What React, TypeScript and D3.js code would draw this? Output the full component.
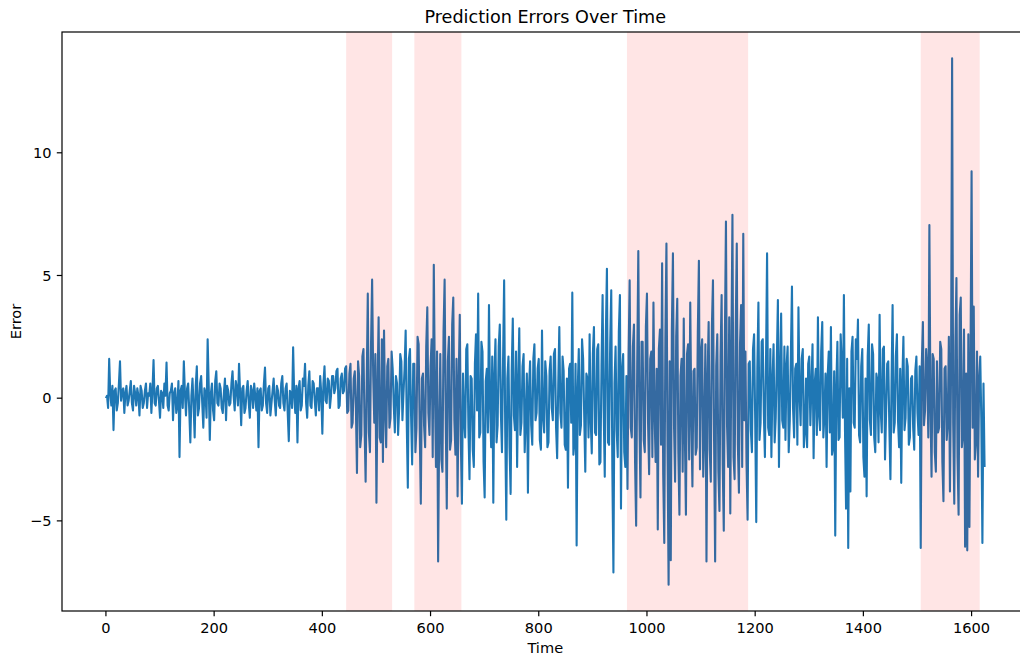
import React from "react";
import * as d3 from "d3";

// ---- data ----
const TITLE = "Prediction Errors Over Time";
const X_LABEL = "Time";
const Y_LABEL = "Error";
const TIME_STEP = 2; // spacing of the stored error samples along the Time axis
const xTicks = [0, 200, 400, 600, 800, 1000, 1200, 1400, 1600];
const yTicks = [-5, 0, 5, 10];
// shaded anomaly windows [start, end] in Time units
const spanStarts = [444, 570, 963, 1506];
const spanEnds = [529, 657, 1187, 1615];

const errors: number[] = [
  // calm stretch, Time 0 - 440
  0.0,
  0.1, -0.4, 1.6, 0.2, -0.3, 0.5, -1.3, 0.3, 0.4, -0.5, -0.2, 0.6, 1.5, -0.1, 0.3, 0.4, -0.6, 0.2, 0.5, -0.3,
  -0.1, 0.3, 0.7, -0.2, -0.5, 0.5, 0.2, -0.3, 0.4, 0.1, -0.7, 0.5, 0.3, -0.4, -0.2, 0.3, 0.6,
  -0.4, 0.2, 0.1, 0.6, -0.6, 0.3, 1.55, -0.2, -0.3, 0.4, 0.5, -0.1, -0.8, 0.3, 0.2, -0.4, 0.6, 0.1,
  1.45, -0.3, -0.5, 0.2, 0.3, 0.6, -0.9, 0.2, 0.4, -0.6, -0.3, 0.7, -2.4, 0.3, 0.5, -0.4, 1.5, 0.2,
  -0.7, 0.4, 0.6, -0.5, -1.8, 0.1, 0.8, -0.3, -1.6, 0.5, 1.3, -0.7, -0.4, 0.6, 0.9, -0.2, -1.2, 0.4,
  0.2, -0.8, 2.4, 0.5, -1.7, 0.2, 0.6, -0.5, -0.9, 0.7, 1.1, -0.2, -0.3, 0.6, 0.4, -0.4, -0.6, 0.2,
  0.8,
  -0.9, 0.5, 0.3, -0.3, -0.2, 0.6, 1.1, 0.1, -0.5, 0.7, 0.4, -0.3, 1.4, 0.2, -1.1, 0.4, 0.5, -0.6,
  -0.4, 0.3, 0.7, -0.2, -0.8, 0.5, 0.3, -0.4, 0.6, 0.1, -0.5, 0.4, -2.0, 0.3, 0.4, -0.5, -0.3, 0.6,
  1.25, -0.2, -0.6, 0.4, 0.5, -0.7, -0.2, 0.3, 0.8, -0.1, -0.7, 0.5, 0.3, -0.3, -0.4, 0.6, 0.9, -0.2,
  -0.5, 0.4, 0.6, -0.6, -1.75, 0.3, 0.2, -0.4, 2.07, 0.1, -0.6, 0.5, -1.8, 0.4, 0.7, -0.5, -0.3, 0.8,
  0.5,
  1.4, -0.2, -0.8, 0.5, 1.1, -0.3, -0.4, 0.7, 0.6, -0.1, -0.7, 0.4, 0.4, -0.5, 0.9, 0.2, -1.45, 0.6,
  1.3, -0.1, -0.2, 0.8, 0.7, -0.4, 0.1, 0.9, 0.9, 0.2, 0.4, 1.1, 1.2, -0.4, -0.3, 0.8, 1.0, 0.2,
  // first anomaly window
  0.3, 1.2, 1.3, -0.6, -0.5, 1.0, 1.4, -1.2, -1.0, 0.8, 1.1, -0.4, -3.05, 1.5, 0.9, -2.0, -1.5, 1.7,
  2.0, -1.1, -3.4, 0.6, 4.26, -1.4, -2.2, 2.2, 4.83, 0.9, -1.0, 1.8, -4.26, 0.4, 3.3, -1.6, -1.8, 2.4,
  -2.6,
  2.76, -0.5, -2.0, 1.3, 1.6, -1.2, -0.8, 1.9, 1.2, -0.3, -1.4, 0.9,
  // Time ~540 - 665
  0.6, -1.5, -0.4, 1.8, 1.5, -0.9, 0.2, 1.2, 2.76, -1.0, -3.65, 1.6, 2.0, -0.7, -2.7, 1.4, 1.4, -2.2,
  -1.2, 2.5, 2.2, -1.3, -4.3, 0.8, 1.0, -1.1, -2.0, 2.1, 3.7, -0.6, -1.5, 1.3, 2.4, -2.4, 5.44, 0.5,
  -2.8, 1.9, -6.65, -1.2, 1.8, -2.5, -3.0, 2.7, 4.83, -0.8, -4.5, 1.5, 2.5, -2.1, -1.7, 3.0, 4.1, -0.9,
  -2.3, 1.6, -4.0, 0.7, 3.4, -1.8, -4.3,
  // Time ~665 - 975
  1.0, -0.8, -1.6, 2.0, 2.2, -1.2, -3.3, 0.9, 0.8, -2.1, -2.8, 1.4, 2.6, -0.5, 4.26, -1.6, -1.4, 2.3,
  1.9, -2.6, -4.05, 0.7, 1.2, -1.4, 3.8, -0.2, -2.0, 1.7, -4.26, 0.9, 2.4, -1.8, -1.1, 2.1, 3.0, -0.6,
  -2.2, 1.5, 4.8, -1.3, -4.95, 0.8, 1.7, -2.0, -3.9, 1.1, 3.25, -0.7, -1.3, 1.9, -2.8, 0.6, 2.85, -1.5,
  -1.0, 1.3, 1.8, -2.2, -0.8, 1.0, -3.85, 0.4, 1.5, -1.1, -1.9, 1.6, 2.2, -0.9, -0.6, 1.2, 1.6, -1.7,
  -2.1,
  2.76, -0.8, -1.4, 1.5, 0.9, -2.0, -1.8, 1.1, 1.7, -0.4, -0.9, 1.8, 2.0, -1.2, -2.45, 0.5, 2.9, -0.6,
  -1.2, 1.7, 1.1, -1.9, -2.1, 0.8, -3.65, 1.2, 1.4, -1.0, 4.3, -2.3, -1.8, 1.4, -6.0, 0.3, 2.0, -1.5,
  -1.1, 2.4, 1.6, -0.7, -3.0, 1.0, 0.8, -1.6, 2.6, -0.9, -2.25, 1.8, 2.9, -1.4, -1.5, 2.0, 2.2, -2.7,
  -2.6, 1.3, 4.2, -0.5, -3.2, 2.6, 5.27, -1.8, -1.9, 2.2, 4.4, -2.9, -7.1, 0.6, 2.1, -1.3, -2.4, 2.7,
  4.2,
  -4.5, 1.1, 1.8, -2.2, -2.8, 0.9, -3.7, 1.7,
  // long anomaly window
  4.8, -1.2, -1.6, 2.1, 3.0, -2.6, -5.2, 1.4, 6.0, -0.8, -4.05, 2.3, 2.3, -1.7, -2.2, 2.9, 4.26, -1.0,
  -3.1, 1.6, 1.9, -2.4, 3.9, -0.6, -2.6, 1.2, -5.35, 2.0, 2.8, -1.9, 5.5, -3.1, -5.9, 2.4, 6.3, -2.0,
  -7.6, 1.5, -6.6, 2.8, 5.9, -1.1, -3.4, 2.5, 4.05, -2.2, -4.75, 0.9, 1.6, -3.0, 3.25, -1.4, -4.75, 1.8,
  2.2, -2.5, 3.9, -0.7, -3.6, 1.1, 1.2, -2.3, -2.0, 2.7, 5.6,
  -2.9, 1.9, 2.4, -3.2, -1.2, 2.2, -6.65, 0.8, 3.1, -2.1, -3.4, 2.9, 4.8, -1.6, -6.65, 1.3, 2.6, -3.0,
  -4.6, 1.7, 4.2, -2.7, -5.4, 2.4, 7.2, -1.1, -2.8, 3.3, -4.7, 1.9, 7.47, -2.4, -3.3, 2.8, 6.3, -1.9,
  -3.85, 2.2, 3.8, -2.8, 6.7, -0.9, 1.9, -2.6, -4.95, 1.4,
  // Time ~1190 - 1505
  1.5, -1.3, -2.2, 2.0, 2.6, -0.8, -5.05, 1.2, 3.9, -1.7, -1.0, 2.3, 2.4, -0.6, -2.4, 1.4, 5.9, -1.2,
  -1.5, 2.0, -2.4, 0.7, 2.2, -1.8, -0.8, 1.5, 4.0,
  -2.8, 1.0, 3.45, -0.9, -1.2, 2.1, -1.7, 1.3, 2.1, -2.2, -0.9, 1.8, 4.55, -0.4, -1.6, 1.2, 1.4, -1.9,
  3.7, 0.2, -1.1, 1.6, 2.0, -2.0, -1.4, 0.8, -2.0, 1.4, 1.7, -1.1, 0.5, 2.2, -2.45, 0.6, 1.2, -1.5,
  3.3, -0.7, -1.3, 1.9, 3.1, -1.6, -0.7, 1.0, -2.8, 0.9, 1.9, -1.4, 2.9, -2.3, -2.0, 1.1, -5.6, 0.5,
  2.3, -1.7, -1.6, 2.6, 1.4, -0.8, 4.2, -1.3, -4.5, 1.6, -6.1, 0.4, -3.8, 1.9, 2.5, -1.0, -1.2, 2.4,
  1.6,
  3.2, -1.5, -1.8, 1.3, 2.0, -2.4, -3.2, 0.8, -4.0, 1.7, 3.0, -0.9, -1.5, 2.2, 1.8, -1.6, -2.2, 1.0,
  0.7, -1.8, 3.4, -0.5, -1.4, 2.0, 2.1, -2.5, -0.6, 1.4, 1.5, -1.2, -3.3, 0.6, 3.8, -1.4, -1.0, 1.7,
  2.6, -0.9, -2.0, 1.2, -3.45, 0.7, 2.5, -1.3, -0.8, 1.6, 1.3, -1.9, -1.6, 0.8, 0.9, -1.2, -2.1, 1.1,
  1.7, -0.6, -1.5, 1.3,
  // last anomaly window and tail
  -6.1, 1.4, 3.1, -1.1, -0.5, 2.0, 1.2, -1.6, 7.06, -0.4, -3.2, 1.8, 1.6, -2.2, -3.0,
  1.5, -1.4, -1.2, 2.3, 2.0, -2.6, -4.2, 1.2, 1.3, -1.7, -1.0, 2.5, -3.8, 0.9, 13.85, -1.0, -4.3, 2.1,
  4.9, -2.4, -4.75, 3.4, 4.1, -2.0, -1.5, 2.8, -6.05, 1.0, -6.2, 2.6, -5.25, 1.5, 9.25, -1.2, 3.73, -2.5,
  -1.8, 1.9, -3.2, 0.8, 1.7, -0.9, -5.9, 0.6, -2.8,
];

const W = 1020;
const H = 659;
const LEFT = 62;
const RIGHT = 1028.5; // right spine falls just outside the cropped figure
const TOP = 32;
const BOTTOM = 611;
const FONT = "'DejaVu Sans', sans-serif";
const LINE = "#1f77b4";
const TICK_FS = 14.6;
const TITLE_FS = 17.6;

export default function App() {
  const times = errors.map((_, i) => i * TIME_STEP);
  const tMax = d3.max(times) as number;
  const [eMin, eMax] = d3.extent(errors) as [number, number];
  const xPad = tMax * 0.05;
  const yPad = (eMax - eMin) * 0.05;

  const x = d3.scaleLinear().domain([-xPad, tMax + xPad]).range([LEFT, RIGHT]);
  const y = d3.scaleLinear().domain([eMin - yPad, eMax + yPad]).range([BOTTOM, TOP]);

  const line = d3
    .line<number>()
    .x((_, i) => x(times[i]))
    .y((d) => y(d));

  const fmt = (v: number) => (v < 0 ? "\u2212" + Math.abs(v) : String(v));
  const tickLen = 5.2;
  const tickPad = 5.2;

  return (
    <svg
      width={W}
      height={H}
      style={{ position: "absolute", left: 0, top: 0, background: "#fff" }}
      fontFamily={FONT}
    >
      <rect x={0} y={0} width={W} height={H} fill="#fff" />
      <path
        d={line(errors) || ""}
        fill="none"
        stroke={LINE}
        strokeWidth={2.1}
        strokeLinejoin="round"
        strokeLinecap="butt"
      />
      {spanStarts.map((s, i) => (
        <rect
          key={"span" + i}
          x={x(s)}
          y={TOP}
          width={x(spanEnds[i]) - x(s)}
          height={BOTTOM - TOP}
          fill="red"
          fillOpacity={0.1}
        />
      ))}
      {/* spines */}
      <rect x={LEFT} y={TOP} width={RIGHT - LEFT} height={BOTTOM - TOP} fill="none" stroke="#000" strokeWidth={1.2} />
      {/* x ticks */}
      {xTicks.map((t) => (
        <g key={"xt" + t}>
          <line x1={x(t)} x2={x(t)} y1={BOTTOM} y2={BOTTOM + tickLen} stroke="#000" strokeWidth={1.2} />
          <text x={x(t)} y={BOTTOM + tickLen + tickPad + 11.2} textAnchor="middle" fontSize={TICK_FS} fill="#000">
            {fmt(t)}
          </text>
        </g>
      ))}
      {/* y ticks */}
      {yTicks.map((t) => (
        <g key={"yt" + t}>
          <line x1={LEFT - tickLen} x2={LEFT} y1={y(t)} y2={y(t)} stroke="#000" strokeWidth={1.2} />
          <text
            x={LEFT - tickLen - tickPad}
            y={y(t)}
            dy="0.36em"
            textAnchor="end"
            fontSize={TICK_FS}
            fill="#000"
          >
            {fmt(t)}
          </text>
        </g>
      ))}
      <text x={(LEFT + RIGHT) / 2} y={23} textAnchor="middle" fontSize={TITLE_FS} fill="#000">
        {TITLE}
      </text>
      <text x={(LEFT + RIGHT) / 2} y={653} textAnchor="middle" fontSize={TICK_FS} fill="#000">
        {X_LABEL}
      </text>
      <text
        transform={`translate(20.5, ${(TOP + BOTTOM) / 2}) rotate(-90)`}
        textAnchor="middle"
        fontSize={TICK_FS}
        fill="#000"
      >
        {Y_LABEL}
      </text>
    </svg>
  );
}
